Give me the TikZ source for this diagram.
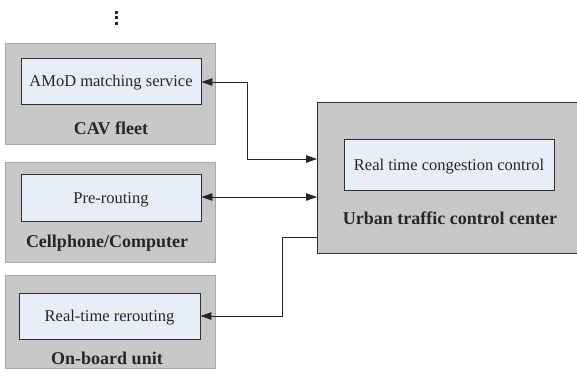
\documentclass[tikz,border=0pt]{standalone}
\usepackage{fontspec}
\setmainfont{Liberation Serif}
\usetikzlibrary{arrows.meta,calc}
\definecolor{outerfill}{HTML}{C8C8C8}
\definecolor{outerline}{HTML}{A8A8A8}
\definecolor{innerfill}{HTML}{E8EEF7}
\definecolor{darkline}{HTML}{303030}
\newcommand{\lowered}[1]{\raisebox{-2pt}[\height][\depth]{#1}}
\tikzset{
  outerbox/.style={fill=outerfill, draw=outerline, line width=1pt},
  innerbox/.style={fill=innerfill, draw=darkline, line width=0.9pt, inner sep=0pt},
  innertext/.style={font=\fontsize{16.5}{18}\selectfont, text=black!85},
  boldlabel/.style={font=\fontsize{18}{20}\selectfont\bfseries, text=black!85},
  conn/.style={draw=black!85, line width=0.9pt},
  dotmark/.style={rectangle, fill=black!85, inner sep=0pt, minimum size=3pt},
  tip/.style={-{Triangle[length=11pt,width=7.5pt]}},
  tips/.style={{Triangle[length=11pt,width=7.5pt]}-{Triangle[length=11pt,width=7.5pt]}}
}
\begin{document}
\begin{tikzpicture}[x=1pt,y=-1pt]
\useasboundingbox (0,0) rectangle (577,376);
% dots
\node[dotmark] (d1) at (116,12) {};
\node[dotmark] (d2) at (116,17.5) {};
\node[dotmark] (d3) at (116,23) {};
% left outer boxes
\draw[outerbox] (5.5,43.5) rectangle (215.5,144);
\node (cavbox) at (110.5,93.5) {};
\draw[outerbox] (5.5,162) rectangle (215.5,262);
\node (cellbox) at (110.5,212) {};
\draw[outerbox] (5.5,275) rectangle (215.5,368);
\node (obubox) at (110.5,321) {};
% right outer box (cut at right edge)
\fill[outerfill] (317,102) rectangle (577,253);
\node[inner sep=0pt] (ucc) at (447,177.5) {};
\coordinate (uccNW) at (317,102);
\coordinate (uccSW) at (317,253);
\draw[darkline, line width=1pt] (577,102) -- (uccNW) -- (uccSW) -- (577,253);
% inner boxes
\node[innerbox, minimum width=180pt, minimum height=46pt, innertext] (amod) at (111,81) {\lowered{AMoD matching service}};
\node[innerbox, minimum width=180pt, minimum height=47pt, innertext] (pre) at (111,197.5) {\lowered{Pre-routing}};
\node[innerbox, minimum width=181pt, minimum height=46pt, innertext] (rr) at (109.5,316) {\lowered{Real-time rerouting}};
\node[innerbox, minimum width=210pt, minimum height=51pt, innertext] (rtc) at (449,164.5) {\lowered{Real time congestion control}};
% bold labels
\node[boldlabel] (cavlab) at (111,128) {CAV fleet};
\node[boldlabel] (celllab) at (107,243) {Cellphone/Computer};
\node[boldlabel] (obulab) at (107,358) {On-board unit};
\node[boldlabel] (ucclab) at (450,218) {Urban traffic control center};
% connectors
\coordinate (c1) at (317,159);
\coordinate (c2) at (317,197);
\coordinate (c3) at (317,237);
\draw[conn, tips] (amod.east |- 0,82) -- (247,82) -- (247,159) -- (c1);
\draw[conn, tips] (pre.east |- c2) -- (c2);
\draw[conn, tip] (c3) -- (282,237) -- (282,316) -- (rr.east);
\end{tikzpicture}
\end{document}
